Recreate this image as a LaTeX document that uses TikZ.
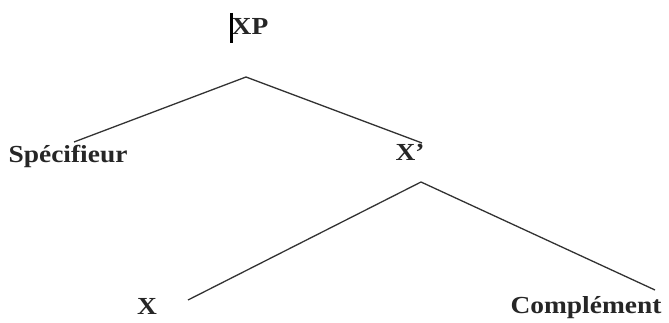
\documentclass[tikz,border=0pt]{standalone}
\usepackage{fontspec}
\newfontfamily\treefont[FakeStretch=1.12]{Liberation Serif}
\usetikzlibrary{calc}
\tikzset{
  lbl/.style={anchor=base, inner sep=0pt, font=\treefont\bfseries\fontsize{24.5}{27}\selectfont, text=black!85},
  branch/.style={line width=1.3pt, draw=black!80}
}
\begin{document}
\begin{tikzpicture}[x=1pt,y=-1pt]
\useasboundingbox (0,0) rectangle (669,323);
\node[lbl] (XP) at (250,35) {XP};
\node[lbl] (Spec) at (68,163) {Spécifieur};
\node[lbl] (Xbar) at (410,161) {X’};
\node[lbl] (X) at (147,314) {X};
\node[lbl] (Comp) at (586,313) {Complément};
\draw[line width=3pt] (231,13) -- (231,43);
\coordinate (XPfoot) at ($(XP.base)+(-4,42)$);
\coordinate (Specfoot) at ($(Spec.base)+(6,-21)$);
\coordinate (Xbarhead) at ($(Xbar.base)+(12,-18)$);
\coordinate (Xbarfoot) at ($(Xbar.base)+(11,21)$);
\coordinate (Xhead) at ($(X.base)+(41,-14)$);
\coordinate (Comphead) at ($(Comp.base)+(69,-23)$);
\draw[branch] (XPfoot) -- (Specfoot);
\draw[branch] (XPfoot) -- (Xbarhead);
\draw[branch] (Xbarfoot) -- (Xhead);
\draw[branch] (Xbarfoot) -- (Comphead);
\end{tikzpicture}
\end{document}
